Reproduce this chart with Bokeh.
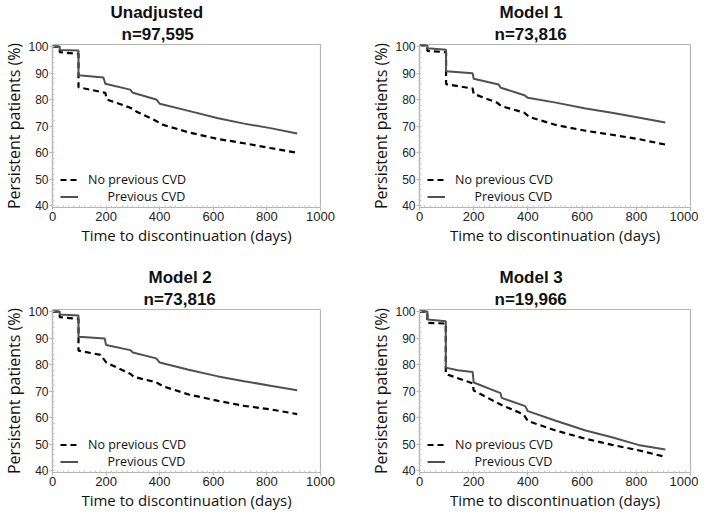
from bokeh.plotting import figure
from bokeh.models import (Title, Legend, LegendItem, Range1d, SingleIntervalTicker)
from bokeh.layouts import column, row
from bokeh.embed import file_html
from bokeh.resources import INLINE

# ---------------- data ----------------
panel_titles = ["Unadjusted", "Model 1", "Model 2", "Model 3"]
panel_n = ["n=97,595", "n=73,816", "n=73,816", "n=19,966"]
legend_labels = ["No previous CVD", "Previous CVD"]
x_ticks = [0, 200, 400, 600, 800, 1000]
y_ticks = [40, 50, 60, 70, 80, 90, 100]

unadj_no_days = [0, 27, 27, 97, 97, 197, 203, 290, 314, 387, 411, 508, 618, 715, 813, 913]
unadj_no_pct = [100, 100, 97.9, 97.3, 84.7, 82.6, 80.1, 77.0, 75.5, 72.0, 70.6, 67.7, 65.2, 63.6, 61.8, 60.0]
unadj_cvd_days = [0, 27, 27, 97, 97, 190, 197, 290, 300, 387, 400, 508, 618, 715, 813, 913]
unadj_cvd_pct = [100, 100, 98.7, 98.5, 89.2, 88.4, 86.0, 83.8, 82.6, 80.1, 78.5, 75.8, 73.0, 71.0, 69.3, 67.3]

m1_no_days = [0, 29, 29, 98, 98, 196, 200, 286, 302, 387, 405, 503, 613, 710, 807, 907]
m1_no_pct = [100.5, 100.5, 98.4, 97.9, 85.9, 84.2, 82.2, 78.9, 77.6, 75.1, 73.5, 70.5, 68.3, 66.8, 65.2, 63.1]
m1_cvd_days = [0, 29, 29, 98, 98, 196, 200, 292, 300, 387, 400, 503, 613, 710, 807, 907]
m1_cvd_pct = [100.5, 100.5, 99.4, 98.8, 90.7, 90.0, 87.9, 85.7, 84.5, 81.7, 80.7, 78.9, 76.7, 75.1, 73.3, 71.4]

m2_no_days = [0, 27, 27, 97, 97, 179, 201, 290, 304, 387, 411, 508, 618, 715, 813, 913]
m2_no_pct = [100, 100, 97.9, 97.3, 85.3, 83.7, 80.8, 76.6, 75.4, 73.4, 71.9, 68.8, 66.4, 64.5, 63.2, 61.4]
m2_cvd_days = [0, 27, 27, 97, 97, 195, 200, 290, 300, 387, 400, 508, 618, 715, 813, 913]
m2_cvd_pct = [100, 100, 98.9, 98.5, 90.5, 89.9, 87.4, 85.5, 84.6, 82.4, 80.8, 78.1, 75.6, 73.8, 72.1, 70.4]

m3_no_days = [0, 29, 29, 97, 97, 196, 200, 299, 384, 400, 503, 613, 710, 807, 907]
m3_no_pct = [100, 100, 95.8, 95.5, 76.5, 73.0, 70.3, 65.0, 61.3, 58.8, 55.2, 52.1, 49.8, 47.8, 45.3]
m3_cvd_days = [0, 29, 29, 97, 97, 141, 196, 200, 299, 303, 390, 400, 503, 613, 710, 807, 907]
m3_cvd_pct = [100, 100, 97.0, 96.4, 78.9, 77.9, 77.3, 73.3, 69.3, 67.5, 64.4, 62.5, 58.9, 55.2, 52.7, 49.8, 48.1]

series = [
    (unadj_no_days, unadj_no_pct, unadj_cvd_days, unadj_cvd_pct),
    (m1_no_days, m1_no_pct, m1_cvd_days, m1_cvd_pct),
    (m2_no_days, m2_no_pct, m2_cvd_days, m2_cvd_pct),
    (m3_no_days, m3_no_pct, m3_cvd_days, m3_cvd_pct),
]

# ---------------- layout / style ----------------
# (frame_w, frame_h, border_left, border_right, border_top, border_bottom, title_offset, n_offset)
geom = [
    (268, 163, 40, 32, 38, 39, 58, 69),
    (271, 163, 67, 8, 38, 39, 80, 75),
    (268, 163, 40, 32, 62, 39, 96, 91),
    (271, 163, 67, 8, 62, 39, 80, 75),
]

GRAY = "#b4b4b4"
TICK_FONT = "Liberation Sans"
LABEL_FONT = "Open Sans"


def make_panel(i):
    fw, fh, bl, br, bt, bb, toff, noff = geom[i]
    no_d, no_p, cv_d, cv_p = series[i]
    p = figure(frame_width=fw, frame_height=fh, output_backend="svg", toolbar_location=None,
               x_range=Range1d(0, 1000), y_range=Range1d(39.4, 100.8),
               min_border_left=bl, min_border_right=br,
               min_border_top=bt, min_border_bottom=bb,
               title=Title(text=panel_titles[i], align="left", offset=toff,
                           text_font=TICK_FONT, text_font_size="17px",
                           text_font_style="bold", text_color="#111111",
                           standoff=1))
    p.add_layout(Title(text=panel_n[i], align="left", offset=noff,
                       text_font=TICK_FONT, text_font_size="17px",
                       text_font_style="bold", text_color="#111111",
                       standoff=1), "above")
    p.xgrid.visible = False
    p.ygrid.visible = False
    p.outline_line_color = GRAY
    p.outline_line_width = 1.2
    p.background_fill_color = "white"
    p.border_fill_color = "white"

    p.xaxis.ticker = SingleIntervalTicker(interval=200, num_minor_ticks=10)
    p.yaxis.ticker = SingleIntervalTicker(interval=10, num_minor_ticks=5)
    for ax in (p.xaxis, p.yaxis):
        ax.axis_line_color = GRAY
        ax.axis_line_width = 1.2
        ax.major_tick_line_color = GRAY
        ax.major_tick_out = 3
        ax.major_tick_in = 0
        ax.minor_tick_line_color = "#c8c8c8"
        ax.minor_tick_in = 2
        ax.minor_tick_out = 0
        ax.major_label_text_font = TICK_FONT
        ax.major_label_text_color = "#222222"
        ax.axis_label_text_font = LABEL_FONT
        ax.axis_label_text_font_style = "normal"
        ax.axis_label_text_color = "#111111"
    p.xaxis.axis_label_text_font_size = "15px"
    p.yaxis.axis_label_text_font_size = "16px"
    p.xaxis.major_label_text_font_size = "13px"
    p.yaxis.major_label_text_font_size = "12px"
    p.xaxis.major_label_standoff = 1
    p.yaxis.major_label_standoff = 1
    p.xaxis.axis_label_standoff = 1
    p.yaxis.axis_label_standoff = 0
    p.xaxis.axis_label = "Time to discontinuation (days)"
    p.yaxis.axis_label = "Persistent patients (%)"

    r_no = p.line(no_d, no_p, line_color="#000000", line_width=2.2, line_dash="6 4")
    r_cv = p.line(cv_d, cv_p, line_color="#505050", line_width=2.0)

    legend = Legend(items=[
        LegendItem(label=legend_labels[0], renderers=[r_no]),
        LegendItem(label="\u00a0" * 6 + legend_labels[1], renderers=[r_cv]),
    ], location=(8, 2), background_fill_alpha=0, border_line_color=None,
        padding=0, margin=0, spacing=0, glyph_width=18, glyph_height=17,
        label_height=17, label_standoff=10,
        label_text_font=LABEL_FONT, label_text_font_size="12.5px",
        label_text_color="#111111")
    p.add_layout(legend)
    return p


panels = [make_panel(i) for i in range(4)]
layout = column(row(panels[0], panels[1]), row(panels[2], panels[3]))

open("out.html", "w").write(file_html(layout, INLINE))
